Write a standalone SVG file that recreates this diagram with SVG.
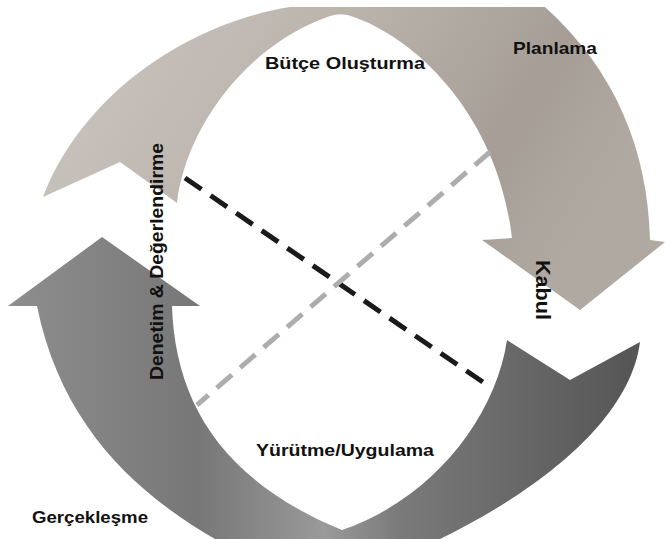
<svg xmlns="http://www.w3.org/2000/svg" width="665" height="539" viewBox="0 0 665 539">
  <defs>
    <linearGradient id="gTop" x1="0" y1="0" x2="1" y2="0.3">
      <stop offset="0" stop-color="#ccc7c1"/>
      <stop offset="0.45" stop-color="#bbb4ad"/>
      <stop offset="0.8" stop-color="#a69e96"/>
      <stop offset="1" stop-color="#b0a9a2"/>
    </linearGradient>
    <linearGradient id="gBot" x1="0" y1="0" x2="1" y2="0">
      <stop offset="0" stop-color="#8e8e8e"/>
      <stop offset="0.3" stop-color="#777777"/>
      <stop offset="0.5" stop-color="#9a9a9a"/>
      <stop offset="0.62" stop-color="#7a7a7a"/>
      <stop offset="1" stop-color="#555555"/>
    </linearGradient>
    <style>
      .lbl { font-family: "Liberation Sans", Arial, sans-serif; font-weight: bold; fill: #111111; }
      .dash { fill: none; stroke-width: 5; stroke-dasharray: 20 11; }
    </style>
  </defs>
  <rect width="665" height="539" fill="#ffffff"/>

  <g id="arrow-top">
    <path fill="url(#gTop)" d="M 43,197 L 120,162 L 177,203 C 185,130 245,45 330,16 Q 342,12 354,17 C 430,45 500,130 512,238 L 482,240 L 580,310 L 665,242 L 650,240 C 648,150 615,70 545,7 L 290,7 C 180,25 80,100 43,197 Z"/>
  </g>

  <g id="arrow-bottom">
    <path fill="url(#gBot)" d="M 102,237 L 200,306 L 172,306 C 175,400 220,480 342,530 C 430,500 495,420 507,340 L 570,380 L 640,342 C 630,420 540,490 440,539 L 215,539 C 130,490 60,420 37,306 L 8,306 Z"/>
  </g>

  <g id="connectors">
    <line class="dash" x1="185" y1="178" x2="490" y2="387" stroke="#1a1a1a"/>
    <line class="dash" x1="490" y1="152" x2="197" y2="405" stroke="#adadad"/>
  </g>

  <g id="label-butce"><text class="lbl" x="265" y="69" font-size="16.5" textLength="160" lengthAdjust="spacingAndGlyphs">Bütçe Oluşturma</text></g>
  <g id="label-planlama"><text class="lbl" x="513" y="54" font-size="16.5" textLength="84" lengthAdjust="spacingAndGlyphs">Planlama</text></g>
  <g id="label-kabul"><text class="lbl" transform="translate(536,260) rotate(90)" font-size="20" textLength="60" lengthAdjust="spacingAndGlyphs">Kabul</text></g>
  <g id="label-yurutme"><text class="lbl" x="256" y="456" font-size="17" textLength="178" lengthAdjust="spacingAndGlyphs">Yürütme/Uygulama</text></g>
  <g id="label-gerceklesme"><text class="lbl" x="32" y="523" font-size="16.5" textLength="116" lengthAdjust="spacingAndGlyphs">Gerçekleşme</text></g>
  <g id="label-denetim"><text class="lbl" transform="translate(163,380) rotate(-90)" font-size="18" textLength="237" lengthAdjust="spacingAndGlyphs">Denetim &amp; Değerlendirme</text></g>
</svg>
